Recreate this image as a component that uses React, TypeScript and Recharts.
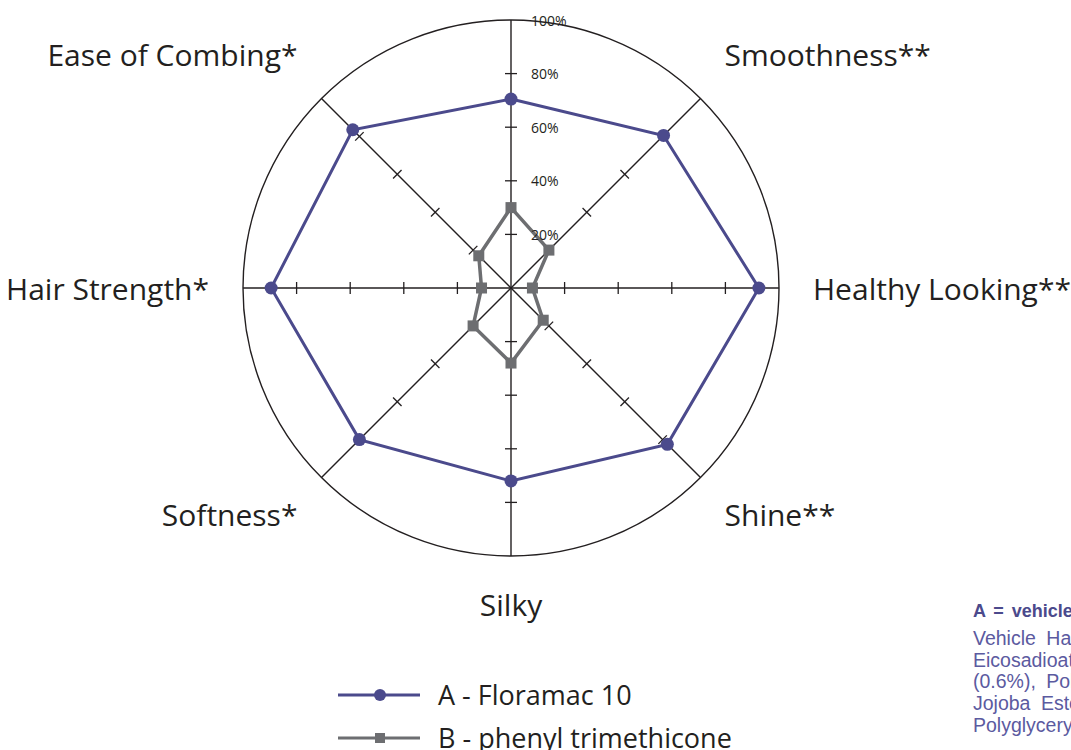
import React from 'react';
import { RadarChart, Radar, PolarGrid, PolarAngleAxis, PolarRadiusAxis, Legend } from 'recharts';

const categories = ['', 'Smoothness**', 'Healthy Looking**', 'Shine**', 'Silky', 'Softness*', 'Hair Strength*', 'Ease of Combing*'];
const seriesA = [70.5, 80.5, 92.5, 82.5, 72, 80, 89.5, 83.5];
const seriesB = [30, 20, 8, 17, 28, 20, 11, 17];
const radiusTicks = [0, 20, 40, 60, 80, 100];
const seriesNames = ['A - Floramac 10', 'B - phenyl trimethicone'];
const noteTitle = 'A = vehicle + Floramac 10';
const noteLines = [
  'Vehicle Hair Conditioner: Water,',
  'Eicosadioate Behentrimonium',
  '(0.6%), Polyquaternium-10,',
  'Jojoba Esters, Cetearyl Alcohol,',
  'Polyglyceryl-3 Caprate',
];

const data = categories.map((c, i) => ({ subject: c, a: seriesA[i], b: seriesB[i] }));

const W = 1071;
const H = 750;
const CX = 511;
const CY = 288;
const R = 268;
const AXIS = '#231f20';
const COLOR_A = '#4b4a8c';
const COLOR_B = '#6d6e71';
const FONT = '"Open Sans", "Noto Sans", sans-serif';

const AngleTick = (props: any) => {
  const { payload } = props;
  const label = payload.value;
  if (!label) return null;
  const ang = (payload.coordinate * Math.PI) / 180;
  const c = Math.cos(ang);
  const s = Math.sin(ang);
  const ry = Math.abs(s) > 0.99 ? 316 : s > 0 ? 330 : 321;
  const x = CX + 302 * c;
  const y = CY - ry * s;
  const anchor = c > 0.01 ? 'start' : c < -0.01 ? 'end' : 'middle';
  return (
    <text x={x} y={y} textAnchor={anchor} dominantBaseline="central" fontFamily={FONT} fontSize={30} fill={AXIS}>
      {label}
    </text>
  );
};

const RadiusTick = (props: any) => {
  const { x, y, payload } = props;
  const v = payload.value;
  if (v === 0) return null;
  const r = CY - y;
  const marks: any[] = [];
  if (v < 100) {
    for (let k = 0; k < 8; k++) {
      const a = (90 - k * 45) * (Math.PI / 180);
      const px = CX + r * Math.cos(a);
      const py = CY - r * Math.sin(a);
      const tx = -Math.sin(a) * 6;
      const ty = -Math.cos(a) * 6;
      marks.push(
        <line key={k} x1={px - tx} y1={py - ty} x2={px + tx} y2={py + ty} stroke={AXIS} strokeWidth={1.3} />
      );
    }
  }
  return (
    <g>
      {marks}
      <text x={x + 20} y={y} dominantBaseline="central" textAnchor="start" fontFamily={FONT} fontSize={14} fill={AXIS}>
        {`${v}%`}
      </text>
    </g>
  );
};

const DotA = (props: any) => {
  const { cx, cy } = props;
  return <circle key={`a-${cx}-${cy}`} cx={cx} cy={cy} r={6.5} fill={COLOR_A} stroke="none" />;
};
const DotB = (props: any) => {
  const { cx, cy } = props;
  return <rect key={`b-${cx}-${cy}`} x={cx - 5.5} y={cy - 5.5} width={11} height={11} fill={COLOR_B} stroke="none" />;
};

const renderLegend = (props: any) => {
  const { payload } = props;
  return (
    <div style={{ position: 'relative' }}>
      {(payload || []).map((entry: any, i: number) => (
        <div key={i} style={{ display: 'flex', alignItems: 'center', height: 43 }}>
          <svg width={100} height={20} style={{ display: 'block' }}>
            <line x1={0} y1={10} x2={82} y2={10} stroke={entry.color} strokeWidth={3} />
            {i === 0 ? (
              <circle cx={42} cy={10} r={6} fill={entry.color} />
            ) : (
              <rect x={37} y={5} width={10} height={10} fill={entry.color} />
            )}
          </svg>
          <span style={{ fontFamily: FONT, fontSize: 27, color: AXIS, whiteSpace: 'nowrap' }}>{entry.value}</span>
        </div>
      ))}
    </div>
  );
};

export default function App() {
  return (
    <div style={{ position: 'absolute', left: 0, top: 0, width: W, height: H, overflow: 'hidden', background: '#fff' }}>
      <RadarChart width={W} height={H} data={data} cx={CX} cy={CY} outerRadius={R} margin={{ top: 0, right: 0, bottom: 0, left: 0 }}>
        <PolarGrid gridType="circle" polarRadius={[R]} stroke={AXIS} strokeWidth={1.4} strokeOpacity={1} />
        <PolarAngleAxis dataKey="subject" tick={AngleTick} tickLine={false} axisLine={false} />
        <PolarRadiusAxis angle={90} domain={[0, 100]} ticks={radiusTicks} tick={RadiusTick} axisLine={false} tickCount={6} />
        <Radar name={seriesNames[1]} dataKey="b" stroke={COLOR_B} strokeWidth={3.5} fill="none" fillOpacity={0} dot={DotB} isAnimationActive={false} />
        <Radar name={seriesNames[0]} dataKey="a" stroke={COLOR_A} strokeWidth={3} fill="none" fillOpacity={0} dot={DotA} isAnimationActive={false} />
        <Legend
          content={(p: any) => renderLegend({ ...p, payload: [...(p.payload || [])].sort((x: any, y: any) => (x.value < y.value ? -1 : 1)) })}
          wrapperStyle={{ position: 'absolute', left: 338, top: 673, width: 500 }}
        />
      </RadarChart>
      <div style={{ position: 'absolute', left: 973, top: 600, width: 300, fontFamily: '"Liberation Sans", Arial, sans-serif' }}>
        <div style={{ fontWeight: 'bold', fontSize: 18, color: '#4b4a8c', whiteSpace: 'nowrap', lineHeight: '22px', wordSpacing: 3 }}>{noteTitle}</div>
        <div style={{ marginTop: 6 }}>
          {noteLines.map((l, i) => (
            <div key={i} style={{ fontSize: 19.5, color: '#5b5aa0', whiteSpace: 'nowrap', lineHeight: '21.7px', wordSpacing: 5 }}>{l}</div>
          ))}
        </div>
      </div>
    </div>
  );
}
